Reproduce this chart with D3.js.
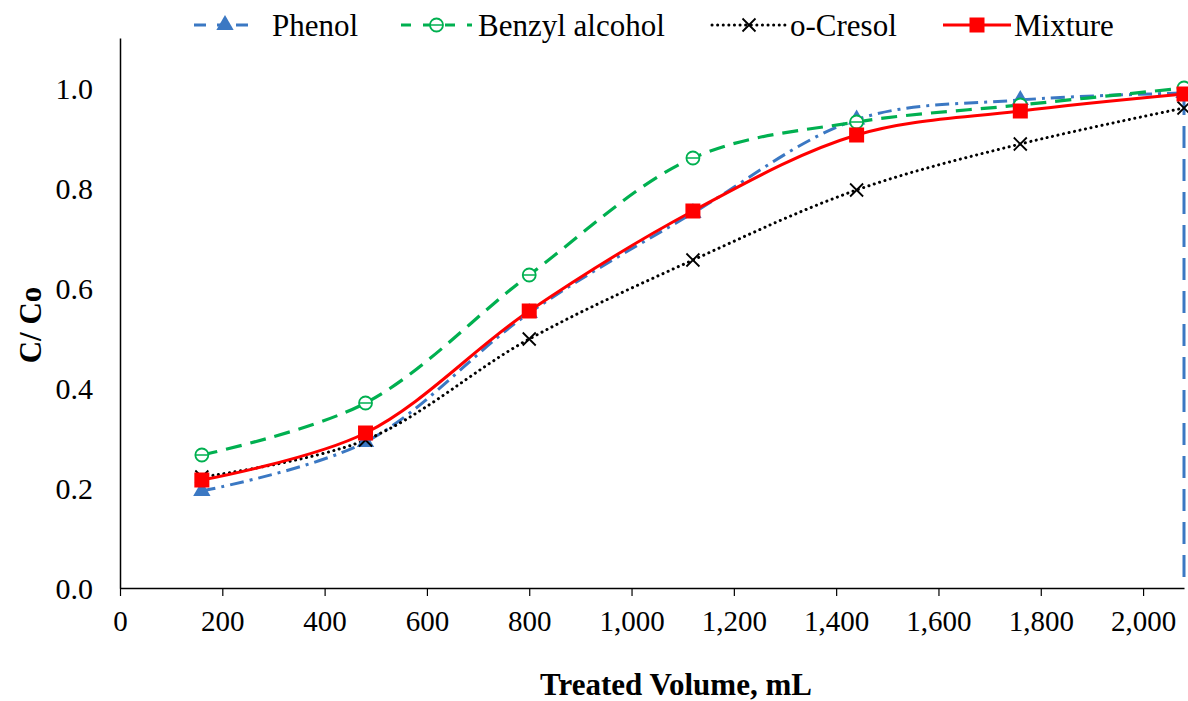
<!DOCTYPE html>
<html><head><meta charset="utf-8">
<script src="https://cdn.jsdelivr.net/npm/d3@7"></script>
<style>body{margin:0;background:#fff}svg{display:block}text{font-family:"Liberation Serif","Times New Roman",serif}</style>
</head><body><svg id="c" width="1188" height="701"></svg>
<script>
const volumes = [160, 480, 800, 1120, 1440, 1760, 2080];
const phenol = [0.194, 0.292, 0.55, 0.75, 0.937, 0.976, 0.99];
const benzyl = [0.266, 0.37, 0.626, 0.86, 0.932, 0.966, 1.0];
const cresol = [0.222, 0.296, 0.498, 0.656, 0.796, 0.888, 0.96];
const mixture = [0.216, 0.31, 0.554, 0.754, 0.906, 0.954, 0.988];
const xTicks = [0, 200, 400, 600, 800, 1000, 1200, 1400, 1600, 1800, 2000];
const yTicks = [0, 0.2, 0.4, 0.6, 0.8, 1.0];
const seriesNames = ["Phenol", "Benzyl alcohol", "o-Cresol", "Mixture"];

const svg = d3.select("#c");
const x = d3.scaleLinear().domain([0, 2080]).range([120, 1184]);
const y = d3.scaleLinear().domain([0, 1.1]).range([588, 38]);
const FONT = '"Liberation Serif","Times New Roman",serif';

// axes
const xa = svg.append("g").attr("transform", "translate(0,588)")
  .call(d3.axisBottom(x).tickValues(xTicks).tickSize(8).tickSizeOuter(0).tickFormat(d3.format(",")));
xa.attr("font-family", FONT);
xa.select(".domain").attr("stroke", "#000").attr("stroke-width", 1.5);
xa.selectAll(".tick line").attr("stroke", "#000").attr("stroke-width", 1.2);
xa.selectAll("text").style("font-family", FONT).attr("font-size", 29).attr("fill", "#000").attr("dy", "1.12em");

const ya = svg.append("g").attr("transform", "translate(120,0)")
  .call(d3.axisLeft(y).tickValues(yTicks).tickSize(0).tickFormat(d3.format(".1f")));
ya.attr("font-family", FONT);
ya.select(".domain").attr("stroke", "#000").attr("stroke-width", 1.5);
ya.selectAll("text").style("font-family", FONT).attr("font-size", 30).attr("fill", "#000").attr("x", -27).attr("dy", "0.35em");

svg.append("text").attr("x", 676).attr("y", 695).attr("text-anchor", "middle")
  .attr("font-size", 31).attr("font-weight", "bold").text("Treated Volume, mL");
svg.append("text").attr("transform", "translate(41,325) rotate(-90)").attr("text-anchor", "middle")
  .attr("font-size", 31).attr("font-weight", "bold").text("C/ Co");

const curve = d3.curveCatmullRom.alpha(0.5);
const line = d3.line().x(d => x(d[0])).y(d => y(d[1])).curve(curve);
const pts = arr => volumes.map((v, i) => [v, arr[i]]);

const styles = [
  {data: phenol, color: "#3B78C3", dash: "14,6,3,6", w: 3, marker: "tri"},
  {data: benzyl, color: "#00B050", dash: "16,9", w: 3.2, marker: "circ"},
  {data: cresol, color: "#000", dash: "0.1,5.5", w: 3, cap: "round", marker: "x"},
  {data: mixture, color: "#FF0000", dash: null, w: 3, marker: "sq"}
];

// vertical dashed line at end of phenol
svg.append("line").attr("x1", x(2080)).attr("x2", x(2080)).attr("y1", y(phenol[6])).attr("y2", y(0))
  .attr("stroke", "#3B78C3").attr("stroke-width", 3).attr("stroke-dasharray", "22,11");

function marker(g, type, cx, cy, color) {
  if (type === "tri") {
    g.append("path").attr("d", d3.symbol(d3.symbolTriangle, 130)()).attr("transform", `translate(${cx},${cy})`).attr("fill", color);
  } else if (type === "circ") {
    g.append("circle").attr("cx", cx).attr("cy", cy).attr("r", 6.5).attr("fill", "#fff").attr("stroke", color).attr("stroke-width", 1.8);
    g.append("line").attr("x1", cx - 6.5).attr("x2", cx + 6.5).attr("y1", cy).attr("y2", cy).attr("stroke", color).attr("stroke-width", 1.5);
  } else if (type === "x") {
    const s = 6.5;
    g.append("path").attr("d", `M${cx - s},${cy - s}L${cx + s},${cy + s}M${cx - s},${cy + s}L${cx + s},${cy - s}`).attr("stroke", color).attr("stroke-width", 1.8);
  } else {
    g.append("rect").attr("x", cx - 7.5).attr("y", cy - 7.5).attr("width", 15).attr("height", 15).attr("fill", color);
  }
}

styles.forEach(s => {
  const p = svg.append("path").attr("d", line(pts(s.data))).attr("fill", "none")
    .attr("stroke", s.color).attr("stroke-width", s.w);
  if (s.dash) p.attr("stroke-dasharray", s.dash);
  if (s.cap) p.attr("stroke-linecap", s.cap);
});
styles.forEach(s => {
  const g = svg.append("g");
  pts(s.data).forEach(d => marker(g, s.marker, x(d[0]), y(d[1]), s.color));
});

// legend
const legX = [[194, 256, 272], [401, 472, 478], [712, 786, 790], [943, 1011, 1014]];
styles.forEach((s, i) => {
  const [a, b, t] = legX[i];
  const g = svg.append("g");
  const ly = 25;
  const l = g.append("line").attr("x1", a).attr("x2", b).attr("y1", ly).attr("y2", ly)
    .attr("stroke", s.color).attr("stroke-width", s.w);
  if (s.dash) l.attr("stroke-dasharray", i === 0 ? "12,11,8,11" : (i === 1 ? "10,12" : s.dash));
  if (s.cap) l.attr("stroke-linecap", s.cap);
  marker(g, s.marker, (a + b) / 2, ly, s.color);
  g.append("text").attr("x", t).attr("y", ly).attr("dy", "0.35em").attr("font-size", 31).text(seriesNames[i]);
});
</script></body></html>
